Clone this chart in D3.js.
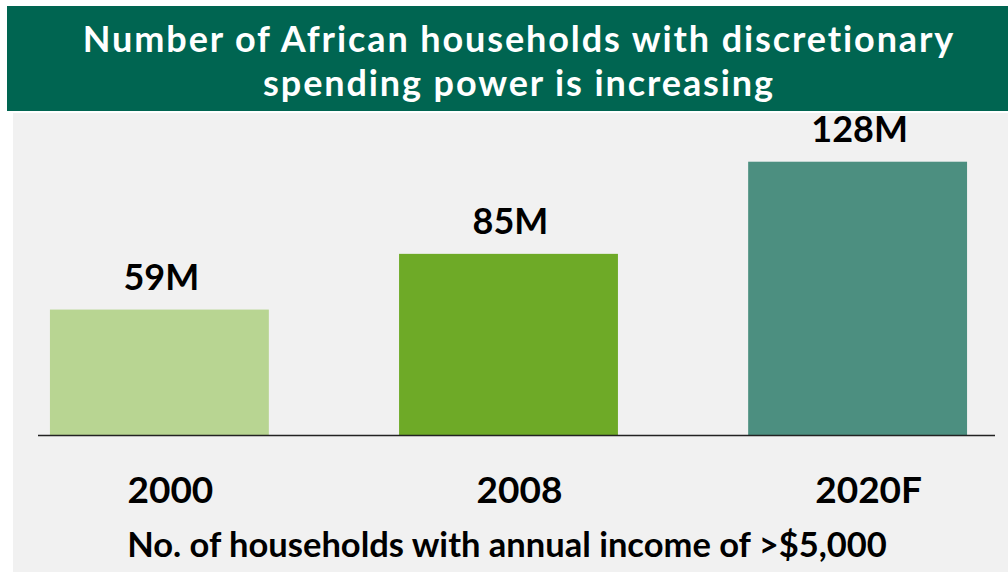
<!DOCTYPE html>
<html>
<head>
<meta charset="utf-8">
<script src="https://cdn.jsdelivr.net/npm/d3@7"></script>
<style>
  html, body { margin: 0; padding: 0; background: #ffffff; }
  svg { display: block; }
</style>
</head>
<body>
<svg id="chart" width="1008" height="573"></svg>
<script>
// Households with annual income above $5,000, in millions
const categories = ["2000", "2008", "2020F"];
const households = [59, 85, 128];
const valueLabels = ["59M", "85M", "128M"];
const barColors = ["#b8d592", "#6eaa27", "#4c8f80"];
const titleLines = ["Number of African households with discretionary", "spending power is increasing"];
const footnote = "No. of households with annual income of >$5,000";

const svg = d3.select("#chart");
const W = 1008, H = 573;

// panel background
svg.append("rect").attr("x", 13).attr("y", 113).attr("width", W - 13).attr("height", 459)
  .attr("fill", "#f1f1f1");

// title banner
svg.append("rect").attr("x", 7).attr("y", 6).attr("width", W - 7).attr("height", 105)
  .attr("fill", "#006551");
svg.append("g").selectAll("text").data(titleLines).join("text")
  .attr("x", 519).attr("y", (d, i) => 52 + i * 44)
  .attr("text-anchor", "middle")
  .attr("fill", "#ffffff")
  .style("font-family", "Lato, sans-serif")
  .style("font-weight", 700)
  .style("font-size", "36px")
  .style("letter-spacing", "1.9px")
  .text(d => d);

// scales
const x = d3.scaleBand().domain(categories)
  .range([-15.2, 1032.2]).paddingInner(0.373).paddingOuter(0.1866);
const y = d3.scaleLinear().domain([0, 140]).range([436, 136]);

const data = categories.map((c, i) => ({ cat: c, v: households[i], label: valueLabels[i], color: barColors[i] }));

// bars
svg.append("g").selectAll("rect").data(data).join("rect")
  .attr("x", d => x(d.cat))
  .attr("y", d => y(d.v))
  .attr("width", x.bandwidth())
  .attr("height", d => y(0) - y(d.v))
  .attr("fill", d => d.color);

// baseline
svg.append("line").attr("x1", 38).attr("x2", 995).attr("y1", 435.5).attr("y2", 435.5)
  .attr("stroke", "#222").attr("stroke-width", 1.5);

// value labels
svg.append("g").selectAll("text").data(data).join("text")
  .attr("x", d => x(d.cat) + x.bandwidth() / 2 + 2)
  .attr("y", d => y(d.v) - 20)
  .attr("text-anchor", "middle")
  .attr("fill", "#000")
  .style("font-family", "Lato, sans-serif")
  .style("font-weight", 700)
  .style("font-size", "36px")
  .text(d => d.label);

// category labels
const xAxis = d3.axisBottom(x).tickSize(0).tickPadding(0);
const gx = svg.append("g").attr("transform", "translate(11,503)").call(xAxis);
gx.select(".domain").remove();
gx.selectAll("text")
  .attr("dy", 0)
  .attr("fill", "#000")
  .style("font-family", "Lato, sans-serif")
  .style("font-weight", 700)
  .style("font-size", "37px");

// footnote
svg.append("text").attr("x", 507).attr("y", 557)
  .attr("text-anchor", "middle")
  .attr("fill", "#000")
  .style("font-family", "Lato, sans-serif")
  .style("font-weight", 700)
  .style("font-size", "34.5px")
  .text(footnote);
</script>
</body>
</html>
